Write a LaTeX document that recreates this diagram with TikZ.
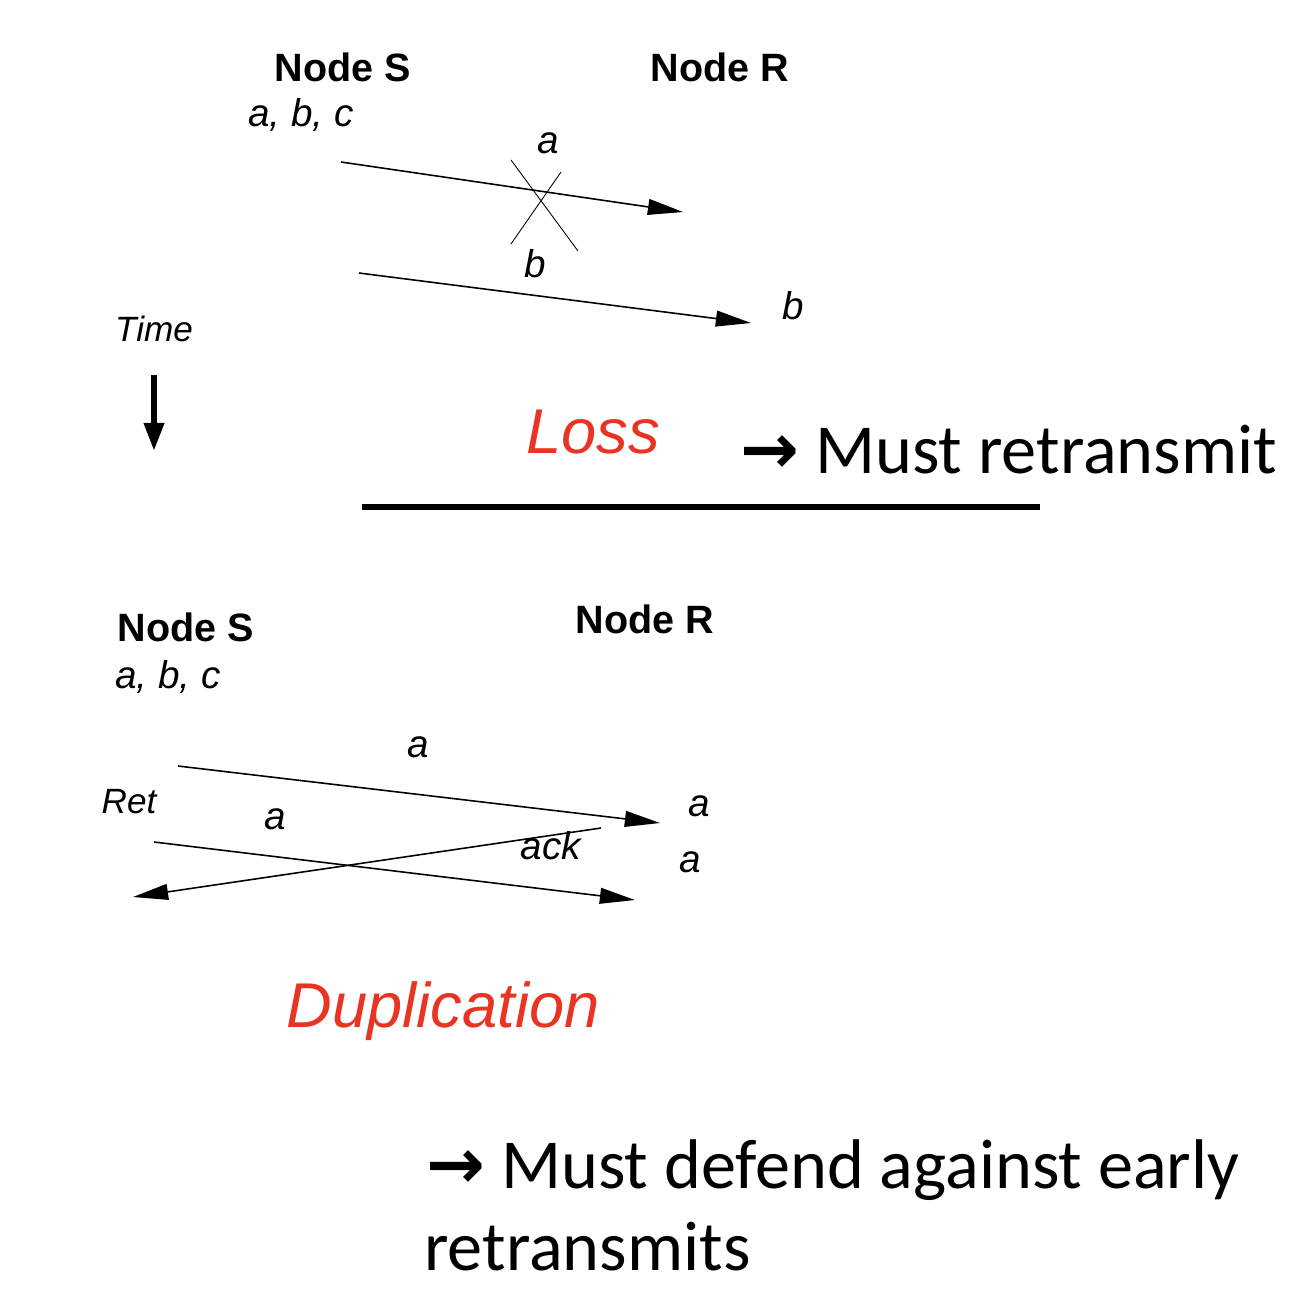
\documentclass[tikz,border=0pt]{standalone}
\usepackage{fontspec}
\setmainfont{Liberation Sans}
\newfontfamily\calfont{Carlito}
\newfontfamily\symfont{DejaVu Sans}
\usepackage{tikz}
\usetikzlibrary{arrows.meta}
\definecolor{errred}{RGB}{233,51,35}
\tikzset{
  nodetitle/.style={font=\fontsize{22.5}{26}\selectfont\bfseries, inner sep=0pt},
  msglabel/.style={font=\fontsize{22}{24}\selectfont\itshape, inner sep=0pt},
  smalllabel/.style={font=\fontsize{20}{22}\selectfont\itshape, inner sep=0pt},
  casename/.style={font=\fontsize{36}{40}\selectfont\itshape, text=errred, inner sep=0pt},
  remark/.style={font=\fontsize{40}{46}\selectfont\calfont, inner sep=0pt, anchor=base west},
  msg/.style={-{Triangle[length=20pt,width=9pt]}, line width=0.9pt},
  crossline/.style={line width=0.5pt}
}
\newcommand{\fixarrow}{{\symfont\bfseries →}}

\begin{document}
\begin{tikzpicture}[x=0.02cm, y=-0.02cm]
  \useasboundingbox (0,0) rectangle (1292,1296);

  % loss case
  \node[nodetitle] (ls) at (343,67) {Node S};
  \node[nodetitle] (lr) at (720,67) {Node R};
  \node[msglabel] (lq) at (301,115) {a, b, c};

  \coordinate (la0) at (341,162);
  \coordinate (la1) at (683,212);
  \coordinate (lb0) at (359,273);
  \coordinate (lb1) at (751,323);
  \node[msglabel] (lal) at (548,143) {a};
  \node[msglabel] (lbl) at (535,264) {b};
  \node[msglabel] (lbr) at (793,306) {b};
  \draw[msg] (la0) -- (la1);
  \draw[msg] (lb0) -- (lb1);

  \coordinate (x1) at (511,160);
  \coordinate (x2) at (578,251);
  \coordinate (x3) at (561,172);
  \coordinate (x4) at (511,244);
  \draw[crossline] (x1) -- (x2);
  \draw[crossline] (x3) -- (x4);

  \node[smalllabel] (time) at (154,329) {Time};
  \coordinate (t0) at (154,375);
  \coordinate (t1) at (154,451);
  \draw[-{Triangle[length=16pt,width=11pt]}, line width=3.4pt] (t0) -- (t1);

  \node[casename] (loss) at (593,432) {Loss};
  \node[remark] (lossfix) at (740,473) {\fixarrow\ Must retransmit};

  \coordinate (sep0) at (362,507);
  \coordinate (sep1) at (1040,507);
  \draw[line width=3.4pt] (sep0) -- (sep1);

  % duplication case
  \node[nodetitle] (ds) at (186,627) {Node S};
  \node[nodetitle] (dr) at (645,619) {Node R};
  \node[msglabel] (dq) at (168,677) {a, b, c};

  \coordinate (da0) at (178,766);
  \coordinate (da1) at (660,823);
  \coordinate (dr0) at (154,842);
  \coordinate (dr1) at (635,900);
  \coordinate (dk0) at (601,828);
  \coordinate (dk1) at (133,897);
  \draw[msg] (da0) -- (da1);
  \draw[msg] (dr0) -- (dr1);
  \draw[msg] (dk0) -- (dk1);

  \node[msglabel] (dal) at (418,747) {a};
  \node[smalllabel] (ret) at (129,802) {Ret};
  \node[msglabel] (drl) at (275,819) {a};
  \node[msglabel] (ack) at (551,846) {ack};
  \node[msglabel] (dar1) at (699,806) {a};
  \node[msglabel] (dar2) at (690,862) {a};

  \node[casename] (dup) at (443,1011) {Duplication};
  \node[remark] (dupfix) at (426,1188) {\fixarrow\ Must defend against early};
  \node[remark] (dupfix2) at (424,1270) {retransmits};
\end{tikzpicture}
\end{document}
